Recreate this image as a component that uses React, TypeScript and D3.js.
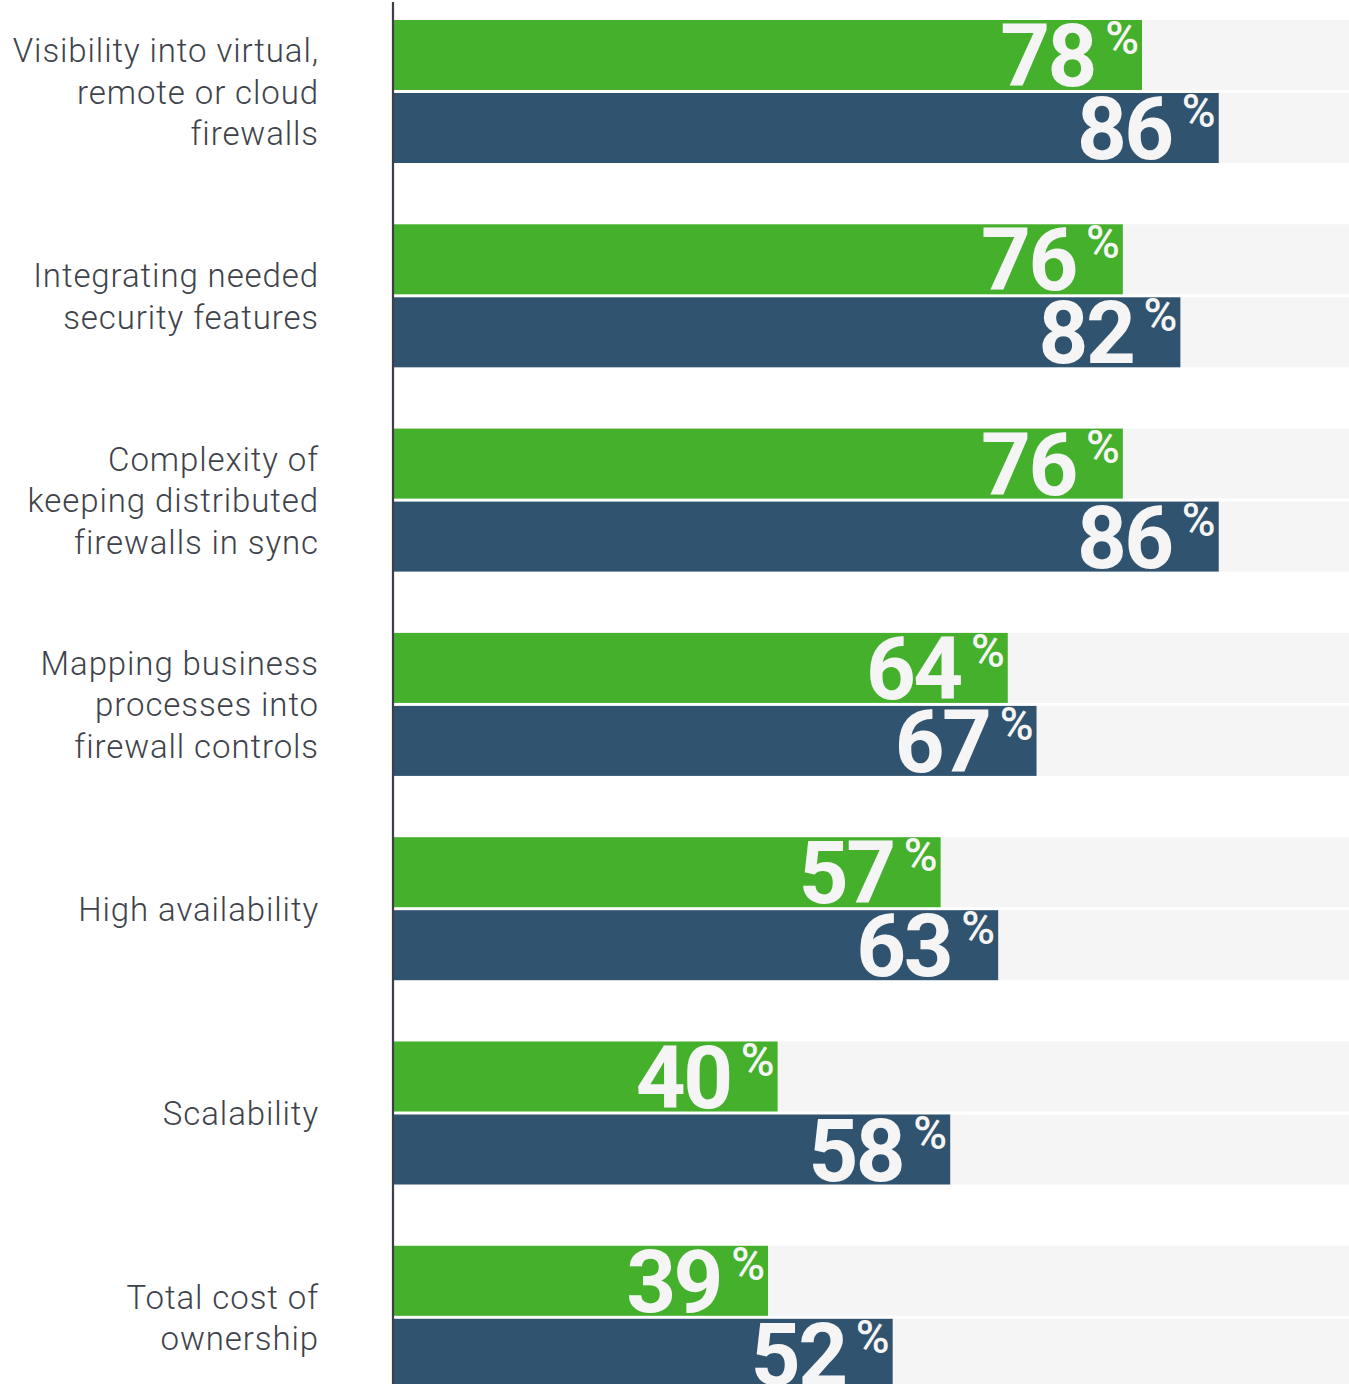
import React from "react";
import * as d3 from "d3";

const categories = [
  "Visibility into virtual, remote or cloud firewalls",
  "Integrating needed security features",
  "Complexity of keeping distributed firewalls in sync",
  "Mapping business processes into firewall controls",
  "High availability",
  "Scalability",
  "Total cost of ownership",
];
const labelLines = [
  ["Visibility into virtual,", "remote or cloud", "firewalls"],
  ["Integrating needed", "security features"],
  ["Complexity of", "keeping distributed", "firewalls in sync"],
  ["Mapping business", "processes into", "firewall controls"],
  ["High availability"],
  ["Scalability"],
  ["Total cost of", "ownership"],
];
const seriesNames = ["Series A", "Series B"];
const greenValues = [78, 76, 76, 64, 57, 40, 39];
const navyValues = [86, 82, 86, 67, 63, 58, 52];

const W = 1349;
const H = 1384;
const colors = ["#44b02c", "#30536f"];
const trackColor = "#f5f5f5";
const textColor = "#f5f5f5";
const labelColor = "#3e434b";

export default function App() {
  const x = d3.scaleLinear().domain([0, 100]).range([394, 1353]);
  const groupH = 143;
  const step = 204.3;
  const y = d3
    .scaleBand<string>()
    .domain(categories)
    .range([20, 20 + 6 * step + groupH])
    .paddingInner((step - groupH) / step)
    .paddingOuter(0);
  const inner = d3
    .scaleBand<string>()
    .domain(seriesNames)
    .range([0, y.bandwidth()])
    .paddingInner(3 / 73)
    .paddingOuter(0);
  const series = [greenValues, navyValues];
  const lineH = 41.5;

  return (
    <svg
      width={W}
      height={H}
      style={{ position: "absolute", left: 0, top: 0, display: "block", background: "#fff" }}
    >
      {categories.map((c, i) => {
        const gy = y(c)!;
        const center = gy + y.bandwidth() / 2;
        const lines = labelLines[i];
        const firstBase = center - ((lines.length - 1) / 2) * lineH + 12;
        return (
          <g key={c}>
            {seriesNames.map((s, k) => {
              const by = gy + inner(s)!;
              const v = series[k][i];
              const xe = x(v);
              return (
                <g key={s}>
                  <rect x={x(0)} y={by} width={x(100) - x(0)} height={inner.bandwidth()} fill={trackColor} />
                  <rect x={x(0)} y={by} width={xe - x(0)} height={inner.bandwidth()} fill={colors[k]} />
                  <text
                    x={xe - 47}
                    y={by + 66}
                    textAnchor="end"
                    fill={textColor}
                    fontFamily="Roboto, 'DejaVu Sans', sans-serif"
                    fontWeight={700}
                    fontSize={87}
                    letterSpacing={-2.5}
                  >
                    {v}
                  </text>
                  <text
                    x={xe - 3}
                    y={by + 34}
                    textAnchor="end"
                    fill={textColor}
                    fontFamily="Roboto, 'DejaVu Sans', sans-serif"
                    fontWeight={500}
                    fontSize={46}
                  >
                    %
                  </text>
                </g>
              );
            })}
            <text
              textAnchor="end"
              fill={labelColor}
              fontFamily="Roboto, 'DejaVu Sans', sans-serif"
              fontWeight={300}
              fontSize={33}
              letterSpacing={0.9}
            >
              {lines.map((l, j) => (
                <tspan key={j} x={319} y={firstBase + j * lineH}>
                  {l}
                </tspan>
              ))}
            </text>
          </g>
        );
      })}
      <line x1={393} x2={393} y1={2} y2={H} stroke="#3a3f48" strokeWidth={2.2} />
    </svg>
  );
}
